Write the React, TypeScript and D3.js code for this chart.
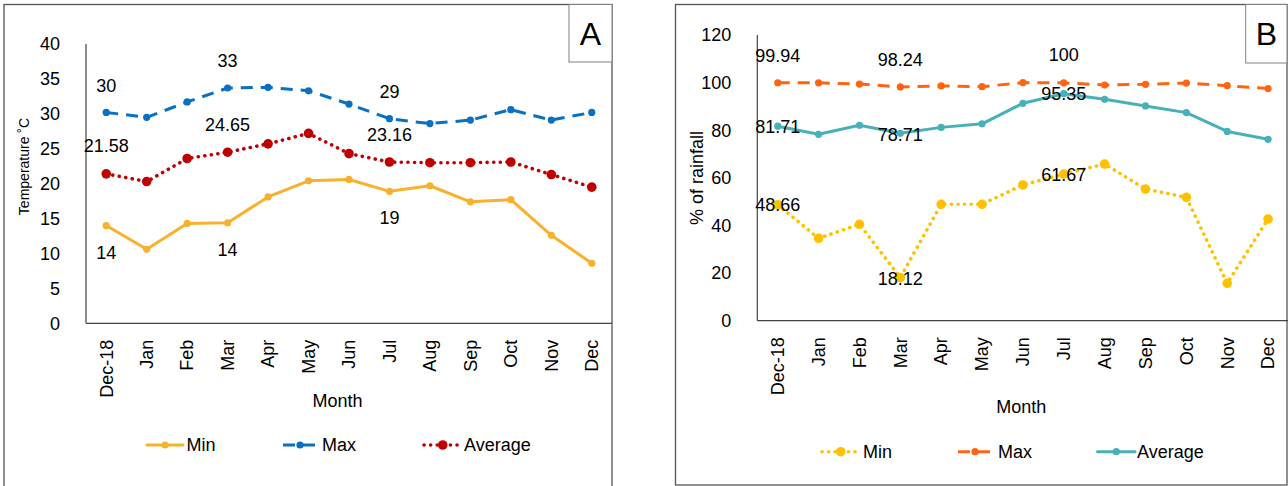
import React, { useRef, useEffect } from 'react';
import * as d3 from 'd3';

// months on the x axis (both panels)
const months = ['Dec-18', 'Jan', 'Feb', 'Mar', 'Apr', 'May', 'Jun', 'Jul', 'Aug', 'Sep', 'Oct', 'Nov', 'Dec'];

// panel A - temperature (°C)
const tempMin = [14.0, 10.6, 14.3, 14.4, 18.1, 20.4, 20.6, 18.9, 19.7, 17.4, 17.7, 12.6, 8.6];
const tempMax = [30.2, 29.5, 31.7, 33.7, 33.8, 33.3, 31.4, 29.3, 28.6, 29.1, 30.6, 29.1, 30.2];
const tempAvg = [21.4, 20.3, 23.6, 24.5, 25.7, 27.2, 24.3, 23.1, 23.0, 23.0, 23.1, 21.3, 19.5];
const tempTicks = [0, 5, 10, 15, 20, 25, 30, 35, 40];
// data labels: [month index, text, height in axis units]
const tempLabels: [number, string, number][] = [
  [0, '30', 34.0], [3, '33', 37.6], [7, '29', 33.1],
  [3, '24.65', 28.4], [0, '21.58', 25.4], [7, '23.16', 27.0],
  [7, '19', 15.1], [0, '14', 10.1], [3, '14', 10.5],
];

// panel B - % of rainfall
const rainMin = [48.7, 34.6, 40.5, 18.1, 48.9, 48.9, 57.0, 61.6, 65.8, 55.3, 51.8, 15.7, 42.7];
const rainMax = [99.94, 99.9, 99.4, 98.2, 98.6, 98.3, 100, 99.9, 99.0, 99.3, 99.8, 98.7, 97.5];
const rainAvg = [81.7, 78.3, 82.1, 78.7, 81.2, 82.7, 91.3, 95.35, 93.0, 90.2, 87.4, 79.5, 76.2];
const rainTicks = [0, 20, 40, 60, 80, 100, 120];
const rainLabels: [number, string, number][] = [
  [0, '99.94', 111.3], [3, '98.24', 109.5], [7, '100', 111.6],
  [7, '95.35', 95.2], [0, '81.71', 81.5], [3, '78.71', 78.0],
  [7, '61.67', 61.5], [0, '48.66', 48.6], [3, '18.12', 17.8],
];

const FONT = "'Liberation Sans', Arial, sans-serif";
const SOLID = { dash: null, cap: 'round', width: 3 };
const DASHED = { dash: '12 8', cap: 'butt', width: 3 };
const DOTTED = { dash: '0.1 6.5', cap: 'round', width: 3.6 };

function drawPanel(svg, p) {
  const g = svg.append('g').attr('font-family', FONT);

  // frame + letter box
  g.append('rect').attr('x', p.frame[0]).attr('y', p.frame[1]).attr('width', p.frame[2]).attr('height', p.frame[3])
    .attr('fill', 'white').attr('stroke', '#555').attr('stroke-width', 1.3);
  g.append('rect').attr('x', p.letterBox[0]).attr('y', p.letterBox[1]).attr('width', p.letterBox[2]).attr('height', p.letterBox[3])
    .attr('fill', 'white').attr('stroke', '#808080').attr('stroke-width', 1);
  g.append('text').attr('x', p.letterBox[0] + p.letterBox[2] / 2).attr('y', p.letterBox[1] + p.letterBox[3] / 2)
    .attr('dy', '0.36em').attr('text-anchor', 'middle').attr('font-size', 32).text(p.letter);

  const x = d3.scalePoint().domain(months).range([p.left, p.right]).padding(0.5);
  const y = d3.scaleLinear().domain(p.yDomain).range([p.bottom, p.top]);

  // axes
  g.append('line').attr('x1', p.left).attr('x2', p.left).attr('y1', p.top).attr('y2', p.bottom)
    .attr('stroke', '#444').attr('stroke-width', 1.2);
  g.append('line').attr('x1', p.left).attr('x2', p.right).attr('y1', p.bottom).attr('y2', p.bottom)
    .attr('stroke', '#444').attr('stroke-width', 1.2);

  g.append('g').selectAll('text').data(p.ticks).enter().append('text')
    .attr('x', p.left - 26).attr('y', d => y(d)).attr('dy', '0.35em')
    .attr('text-anchor', 'end').attr('font-size', 18).text(d => d);

  g.append('g').selectAll('text').data(months).enter().append('text')
    .attr('transform', d => `translate(${x(d)},${p.bottom + 16.5}) rotate(-90)`)
    .attr('dy', '0.35em').attr('text-anchor', 'end').attr('font-size', 18).text(d => d);

  g.append('text').attr('x', p.monthPos[0]).attr('y', p.monthPos[1]).attr('dy', '0.35em')
    .attr('text-anchor', 'middle').attr('font-size', 18).text('Month');
  g.append('text').attr('transform', `translate(${p.yTitlePos[0]},${p.yTitlePos[1]}) rotate(-90)`)
    .attr('dy', '0.35em').attr('text-anchor', 'middle').attr('font-size', p.yTitleSize).text(p.yTitle);

  // series
  const line = d3.line().x((d, i) => x(months[i])).y(d => y(d));
  p.series.forEach(s => {
    g.append('path').attr('d', line(s.values)).attr('fill', 'none').attr('stroke', s.color)
      .attr('stroke-width', s.style.width).attr('stroke-dasharray', s.style.dash)
      .attr('stroke-linecap', s.style.cap).attr('stroke-linejoin', 'round');
    g.append('g').selectAll('circle').data(s.values).enter().append('circle')
      .attr('cx', (d, i) => x(months[i])).attr('cy', d => y(d))
      .attr('r', s.bigMarker ? 4.8 : 3.6).attr('fill', s.color);
  });

  // data labels
  g.append('g').selectAll('text').data(p.labels).enter().append('text')
    .attr('x', d => x(months[d[0]])).attr('y', d => y(d[2])).attr('dy', '0.35em')
    .attr('text-anchor', 'middle').attr('font-size', 18).text(d => d[1]);

  // legend
  p.series.forEach((s, i) => {
    const [x0, x1, tx] = p.legend[i];
    const ly = p.legendY;
    g.append('line').attr('x1', x0).attr('x2', x1).attr('y1', ly).attr('y2', ly).attr('stroke', s.color)
      .attr('stroke-width', s.style.width).attr('stroke-dasharray', s.style.dash).attr('stroke-linecap', s.style.cap);
    g.append('circle').attr('cx', (x0 + x1) / 2).attr('cy', ly).attr('r', s.bigMarker ? 4.8 : 3.6).attr('fill', s.color);
    g.append('text').attr('x', tx).attr('y', ly).attr('dy', '0.35em').attr('font-size', 18).text(s.name);
  });
}

export default function App() {
  const ref = useRef(null);

  useEffect(() => {
    const svg = d3.select(ref.current);
    svg.selectAll('*').remove();

    drawPanel(svg, {
      frame: [4, 4.5, 608, 492],
      letterBox: [569, 4.5, 43, 57.5],
      letter: 'A',
      left: 86, right: 612, top: 44, bottom: 323.3,
      yDomain: [0, 40], ticks: tempTicks,
      yTitle: 'Temperature ˚C', yTitleSize: 14, yTitlePos: [24, 166.5],
      monthPos: [337.5, 401],
      labels: tempLabels,
      series: [
        { name: 'Min', values: tempMin, color: '#F7B12D', style: SOLID },
        { name: 'Max', values: tempMax, color: '#0A70C2', style: DASHED },
        { name: 'Average', values: tempAvg, color: '#C00000', style: DOTTED, bigMarker: true },
      ],
      legendY: 445,
      legend: [[147, 183, 186.5], [283, 317, 322], [424, 461.5, 464]],
    });

    drawPanel(svg, {
      frame: [675.5, 4.5, 611.5, 480.5],
      letterBox: [1245.7, 4.5, 41.3, 58.5],
      letter: 'B',
      left: 757.3, right: 1288.5, top: 35, bottom: 320.7,
      yDomain: [0, 120], ticks: rainTicks,
      yTitle: '% of rainfall', yTitleSize: 18, yTitlePos: [696.5, 178],
      monthPos: [1021.3, 406.7],
      labels: rainLabels,
      series: [
        { name: 'Min', values: rainMin, color: '#FFC000', style: DOTTED, bigMarker: true },
        { name: 'Max', values: rainMax, color: '#FF6410', style: DASHED },
        { name: 'Average', values: rainAvg, color: '#48B0B8', style: SOLID },
      ],
      legendY: 451.7,
      legend: [[822, 859.5, 863], [958, 992, 998], [1097.5, 1135, 1137]],
    });
  }, []);

  return (
    <svg ref={ref} width={1288} height={486}
      style={{ position: 'absolute', left: 0, top: 0, background: 'white' }} />
  );
}
